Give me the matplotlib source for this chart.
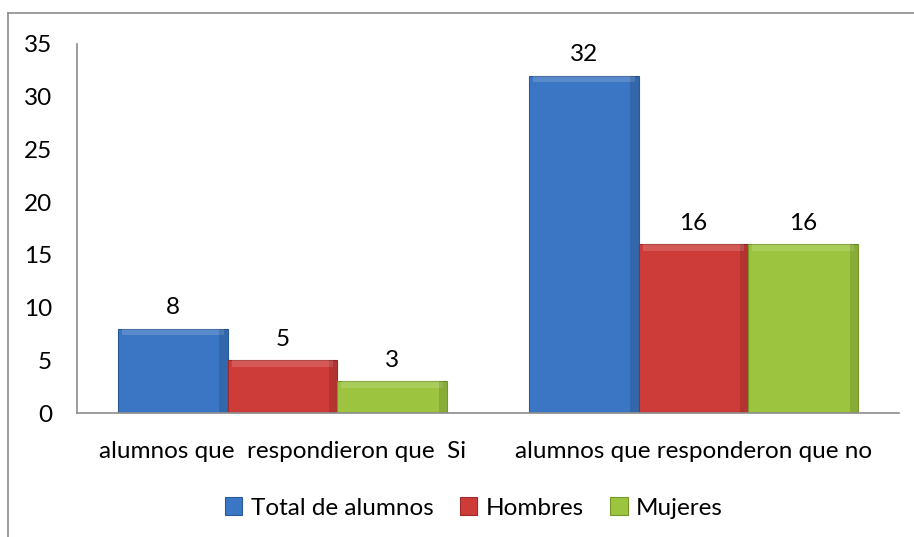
import numpy as np
import matplotlib.pyplot as plt
from matplotlib.patches import Rectangle

plt.rcParams['font.family'] = ['Lato', 'DejaVu Sans']

categories = ['alumnos que  respondieron que  Si', 'alumnos que responderon que no']
series_names = ['Total de alumnos', 'Hombres', 'Mujeres']
total = [8, 32]
hombres = [5, 16]
mujeres = [3, 16]

colors = ['#3B76C4', '#CE3C3A', '#9CC43E']
edges = ['#2B5A98', '#9E2B29', '#76962C']
fs = 17.5

fig = plt.figure(figsize=(9.14, 5.37), dpi=100)
# outer chart border (only top and left visible in the reference)
fig.add_artist(plt.Line2D([8 / 914, 1], [1 - 13 / 537, 1 - 13 / 537], color='#8c8c8c', lw=1.2))
fig.add_artist(plt.Line2D([8 / 914, 8 / 914], [0, 1 - 13 / 537], color='#8c8c8c', lw=1.2))

ax = fig.add_axes([77 / 914, 1 - 413 / 537, (899 - 77) / 914, (413 - 44) / 537])

x = np.arange(len(categories))
width = 0.8 / 3
for i, (vals, name) in enumerate(zip([total, hombres, mujeres], series_names)):
    pos = x - width + i * width
    bars = ax.bar(pos, vals, width, color=colors[i], edgecolor=edges[i], linewidth=0.8, label=name)
    for b in bars:
        # soft bevel: light top strip, darker right strip
        ax.add_patch(Rectangle((b.get_x() + 0.01, b.get_height() - 0.6), b.get_width() - 0.02, 0.6,
                               color='white', alpha=0.15, lw=0))
        ax.add_patch(Rectangle((b.get_x() + b.get_width() - 0.02, 0), 0.02, b.get_height(),
                               color='black', alpha=0.12, lw=0))
        ax.text(b.get_x() + b.get_width() / 2, b.get_height() + 1.0, f'{int(b.get_height())}',
                ha='center', va='bottom', fontsize=fs, color='black')

ax.set_xlim(-0.5, 1.5)
ax.set_ylim(0, 35)
ax.set_yticks(range(0, 36, 5))
ax.set_xticks(x)
ax.set_xticklabels(categories)
ax.tick_params(axis='both', length=0, labelsize=fs)
ax.tick_params(axis='y', pad=18)
ax.tick_params(axis='x', pad=20)
for s in ['top', 'right']:
    ax.spines[s].set_visible(False)
ax.spines['left'].set_color('#8c8c8c')
ax.spines['bottom'].set_color('#8c8c8c')
ax.spines['left'].set_linewidth(1.2)
ax.spines['bottom'].set_linewidth(1.2)

fig.legend(loc='center', bbox_to_anchor=(474 / 914, 1 - 508 / 537), ncol=3, frameon=False,
           fontsize=fs, handlelength=0.7, handleheight=0.7, handletextpad=0.35, columnspacing=1.1)

fig.savefig('out.png', dpi=100)
